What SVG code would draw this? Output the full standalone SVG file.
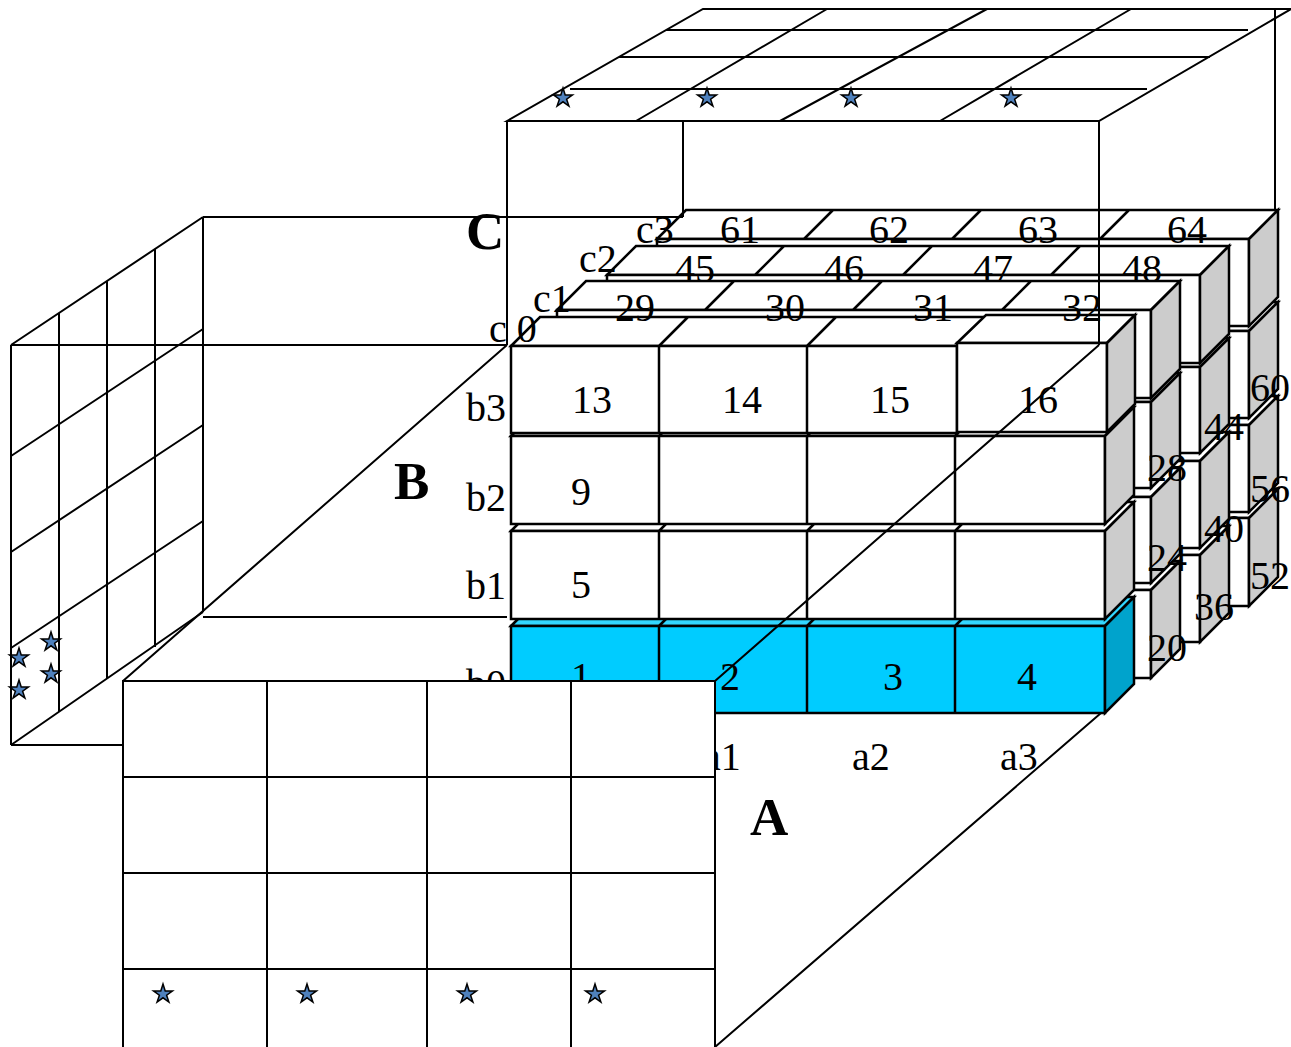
<svg xmlns="http://www.w3.org/2000/svg" width="1291" height="1047" viewBox="0 0 1291 1047">
<style>
path{stroke:#000;stroke-width:2.5;stroke-linejoin:miter}
.w{fill:#fff}.g{fill:#ccc}
.b{fill:#0cf}.bt{fill:#33d6ff}.bs{fill:#00a3cc}
.wire{fill:none;stroke:#000;stroke-width:2}
.pl{fill:#fff;stroke:#000;stroke-width:2}
text{font-family:"Liberation Serif","Times New Roman",serif;font-size:40px;fill:#000}
.big{font-size:53px;font-weight:bold}
.star{fill:#4f81bd;stroke:#000;stroke-width:1.5}
</style>
<defs>
<polygon id="star" class="star" points="0,-10 2.2,-3.1 9.5,-3.1 3.6,1.2 5.9,8.1 0,3.8 -5.9,8.1 -3.6,1.2 -9.5,-3.1 -2.2,-3.1"/>
</defs>
<rect width="1291" height="1047" fill="#fff"/>
<g id="layer-c3">
<g id="c3-b0"><path class="w" d="M657 518L686 489H1278L1249 518Z"/><path class="w" d="M657 518H1249V606H657Z"/><path class="g" d="M1249 518L1278 489V577L1249 606Z"/></g>
<g id="c3-b1"><path class="w" d="M657 425L686 396H1278L1249 425Z"/><path class="w" d="M657 425H1249V512H657Z"/><path class="g" d="M1249 425L1278 396V483L1249 512Z"/></g>
<g id="c3-b2"><path class="w" d="M657 331L686 302H1278L1249 331Z"/><path class="w" d="M657 331H1249V418H657Z"/><path class="g" d="M1249 331L1278 302V389L1249 418Z"/></g>
<g id="c3-b3"><path class="w" d="M657 239L686 210H1278L1249 239ZM804 239L833 210M952 239L981 210M1100 239L1129 210"/><path class="w" d="M657 239H1249V326H657Z"/><path class="g" d="M1249 239L1278 210V297L1249 326Z"/></g>
</g>
<g id="layer-c2">
<g id="c2-b0"><path class="w" d="M607 555L636 526H1229L1200 555Z"/><path class="w" d="M607 555H1200V642H607Z"/><path class="g" d="M1200 555L1229 526V613L1200 642Z"/></g>
<g id="c2-b1"><path class="w" d="M607 461L636 432H1229L1200 461Z"/><path class="w" d="M607 461H1200V548H607Z"/><path class="g" d="M1200 461L1229 432V519L1200 548Z"/></g>
<g id="c2-b2"><path class="w" d="M607 367L636 338H1229L1200 367Z"/><path class="w" d="M607 367H1200V453H607Z"/><path class="g" d="M1200 367L1229 338V424L1200 453Z"/></g>
<g id="c2-b3"><path class="w" d="M607 275L636 246H1229L1200 275ZM755 275L784 246M903 275L932 246M1051 275L1080 246"/><path class="w" d="M607 275H1200V363H607Z"/><path class="g" d="M1200 275L1229 246V334L1200 363Z"/></g>
</g>
<g id="layer-c1">
<g id="c1-b0"><path class="w" d="M557 590L586 561H1180L1151 590Z"/><path class="w" d="M557 590H1151V678H557Z"/><path class="g" d="M1151 590L1180 561V649L1151 678Z"/></g>
<g id="c1-b1"><path class="w" d="M557 497L586 468H1180L1151 497Z"/><path class="w" d="M557 497H1151V583H557Z"/><path class="g" d="M1151 497L1180 468V554L1151 583Z"/></g>
<g id="c1-b2"><path class="w" d="M557 402L586 373H1180L1151 402Z"/><path class="w" d="M557 402H1151V488H557Z"/><path class="g" d="M1151 402L1180 373V459L1151 488Z"/></g>
<g id="c1-b3"><path class="w" d="M557 310L586 281H1180L1151 310ZM705 310L734 281M853 310L882 281M1002 310L1031 281"/><path class="w" d="M557 310H1151V398H557Z"/><path class="g" d="M1151 310L1180 281V369L1151 398Z"/></g>
</g>
<g id="layer-c0">
<g id="c0-b0"><path class="bt" d="M511 626L540 597H1134L1105 626ZM659 626L688 597M807 626L836 597M955 626L984 597"/><path class="b" d="M511 626H1105V713H511ZM659 626V713M807 626V713M955 626V713"/><path class="bs" d="M1105 626L1134 597V684L1105 713Z"/></g>
<g id="c0-b1"><path class="w" d="M511 531L540 502H1134L1105 531ZM659 531L688 502M807 531L836 502M955 531L984 502"/><path class="w" d="M511 531H1105V619H511ZM659 531V619M807 531V619M955 531V619"/><path class="g" d="M1105 531L1134 502V590L1105 619Z"/></g>
<g id="c0-b2"><path class="w" d="M511 436L540 407H1134L1105 436ZM659 436L688 407M807 436L836 407M955 436L984 407"/><path class="w" d="M511 436H1105V524H511ZM659 436V524M807 436V524M955 436V524"/><path class="g" d="M1105 436L1134 407V495L1105 524Z"/></g>
<g id="c0-b3"><path class="w" d="M511 346L540 317H1106L1077 346ZM659 346L688 317M807 346L836 317"/><path class="w" d="M511 346H957V433H511ZM659 346V433M807 346V433"/></g>
<g id="cell-16"><path class="w" d="M957 343L986 315H1135L1107 343Z"/><path class="w" d="M957 343H1107V432H957Z"/><path class="g" d="M1107 343L1135 315V404L1107 432Z"/></g>
</g>
<g id="labels">
<text x="572" y="413">13</text><text x="722" y="413">14</text><text x="870" y="413">15</text><text x="1018" y="413">16</text>
<text x="571" y="505">9</text><text x="571" y="598">5</text>
<text x="571" y="690">1</text><text x="720" y="690">2</text><text x="883" y="690">3</text><text x="1017" y="690">4</text>
<text x="466" y="421">b3</text><text x="466" y="511">b2</text><text x="466" y="599">b1</text><text x="466" y="697">b0</text>
<text x="703" y="770">a1</text><text x="852" y="770">a2</text><text x="1000" y="770">a3</text>
<text x="489" y="342">c 0</text><text x="533" y="312">c1</text><text x="579" y="272">c2</text><text x="636" y="243">c3</text>
<text x="720" y="243">61</text><text x="869" y="243">62</text><text x="1018" y="243">63</text><text x="1167" y="243">64</text>
<text x="675" y="282">45</text><text x="824" y="282">46</text><text x="973" y="282">47</text><text x="1122" y="282">48</text>
<text x="615" y="321">29</text><text x="765" y="321">30</text><text x="913" y="321">31</text><text x="1062" y="321">32</text>
<text x="1250" y="401">60</text><text x="1204" y="440">44</text><text x="1147" y="481">28</text>
<text x="1250" y="502">56</text><text x="1204" y="542">40</text><text x="1147" y="571">24</text>
<text x="1250" y="589">52</text><text x="1194" y="620">36</text><text x="1147" y="661">20</text>
<text class="big" x="466" y="249">C</text><text class="big" x="394" y="499">B</text><text class="big" x="750" y="835">A</text>
</g>
<g id="connectors">
<path class="wire" d="M507 121H1099L1291 9H703ZM636 121L827 9M780 121L987 9M940 121L1131 9M570 89H1147M619 57H1210M666 30H1248"/>
<path class="wire" d="M507 121V345M683 121V217M1099 121V345M1275 9V210M203 217H683"/>
<path class="wire" d="M11 345H507M11 345V745M11 745H123M59 313V712M107 281V679M155 249V647M203 217V612M203 617H507"/>
<path class="wire" d="M11 345L203 217M11 456L203 329M11 552L203 425M11 648L203 521M11 745L203 612"/>
<path class="wire" d="M123 681L507 345M715 681L1099 345M715 1047L1101 713"/>
</g>
<g id="plane-a">
<path class="pl" d="M123 1049V681H715V1049M123 777H715M123 873H715M123 969H715M267 681V1049M427 681V1049M571 681V1049"/>
</g>
<g id="stars">
<use href="#star" x="563" y="98"/><use href="#star" x="707" y="98"/><use href="#star" x="851" y="98"/><use href="#star" x="1011" y="98"/>
<use href="#star" x="19" y="658"/><use href="#star" x="19" y="690"/><use href="#star" x="51" y="642"/><use href="#star" x="51" y="674"/>
<use href="#star" x="163" y="994"/><use href="#star" x="307" y="994"/><use href="#star" x="467" y="994"/><use href="#star" x="595" y="994"/>
</g>
</svg>
